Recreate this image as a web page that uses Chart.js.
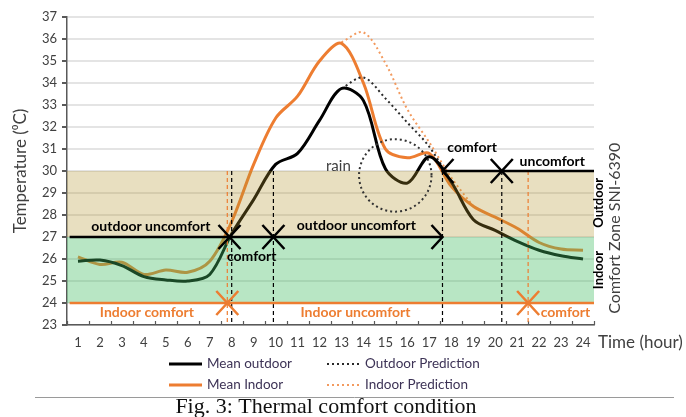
<!DOCTYPE html>
<html>
<head>
<meta charset="utf-8">
<script src="https://cdn.jsdelivr.net/npm/chart.js@4.4.1/dist/chart.umd.min.js"></script>
<style>
html, body { margin: 0; padding: 0; background: #fff; }
#wrap { width: 686px; height: 417px; }
</style>
</head>
<body>
<div id="wrap"><canvas id="Thermal" width="686" height="417"></canvas></div>
<script>
// hours of the day (x axis)
const hours = [1, 2, 3, 4, 5, 6, 7, 8, 9, 10, 11, 12, 13, 14, 15, 16, 17, 18, 19, 20, 21, 22, 23, 24];
const meanOutdoor = [25.9, 25.95, 25.7, 25.2, 25.05, 25.0, 25.3, 27.15, 28.7, 30.3, 30.8, 32.3, 33.75, 33.2, 30.1, 29.45, 30.65, 29.5, 27.8, 27.3, 26.8, 26.4, 26.15, 26.0];
const meanIndoor = [26.1, 25.75, 25.85, 25.3, 25.5, 25.4, 25.9, 27.7, 30.3, 32.4, 33.4, 35.0, 35.8, 34.0, 31.0, 30.6, 30.8, 29.3, 28.4, 27.9, 27.4, 26.75, 26.45, 26.4];
const outdoorPredHours = [13, 14, 15, 16, 17, 18];
const outdoorPred = [33.75, 34.25, 33.3, 32.2, 31.1, 29.5];
const indoorPredHours = [13, 14, 15, 16, 17, 18, 19];
const indoorPred = [35.85, 36.3, 34.9, 32.8, 31.3, 29.7, 28.4];

// comfort zones SNI-6390
const indoorZone = [24, 27];
const outdoorZone = [27, 30];

// annotation marks (hour / degC)
const crossHours = { outA: 7.9, outB: 9.9, outC: 17.6, outD: 20.3, inA: 7.8, inB: 21.5 };

const toPts = (xs, ys) => xs.map((x, i) => ({ x: x, y: ys[i] }));

const ORANGE = '#ed7d31';
const GREY = '#404040';

const ctx = document.getElementById('Thermal').getContext('2d');
Chart.defaults.font.family = 'Lato';
Chart.defaults.color = GREY;

function head(c, tx, ty, dir) {
    c.beginPath();
    c.moveTo(tx - dir * 11, ty - 12);
    c.lineTo(tx, ty);
    c.lineTo(tx - dir * 11, ty + 12);
    c.stroke();
}

function arrowLine(c, x, y, seg, color) {
    const px1 = x.getPixelForValue(seg[0]), px2 = x.getPixelForValue(seg[1]);
    const py = y.getPixelForValue(seg[2]);
    c.strokeStyle = color;
    c.lineWidth = 2.5;
    c.beginPath();
    c.moveTo(px1, py);
    c.lineTo(px2, py);
    c.stroke();
    if (seg[3]) head(c, px1, py, -1);
    if (seg[4]) head(c, px2, py, 1);
}

const comfortPlugin = {
    id: 'comfort',
    afterDatasetsDraw(chart) {
        const { ctx: c, chartArea: a, scales: { y } } = chart;
        c.save();
        c.fillStyle = 'rgba(68, 189, 100, 0.38)';
        c.fillRect(a.left, y.getPixelForValue(indoorZone[1]), a.right - a.left,
            y.getPixelForValue(indoorZone[0]) - y.getPixelForValue(indoorZone[1]));
        c.fillStyle = 'rgba(178, 148, 45, 0.3)';
        c.fillRect(a.left, y.getPixelForValue(outdoorZone[1]), a.right - a.left,
            y.getPixelForValue(outdoorZone[0]) - y.getPixelForValue(outdoorZone[1]));
        c.restore();
    },
    afterDraw(chart) {
        const { ctx: c, chartArea: a, scales: { x, y } } = chart;
        c.save();

        // small tick marks between hours
        c.strokeStyle = '#595959';
        c.lineWidth = 1.2;
        for (let h = 0.5; h <= 24.5; h++) {
            const px = Math.round(x.getPixelForValue(h)) + 0.5;
            c.beginPath();
            c.moveTo(px, a.bottom - 4);
            c.lineTo(px, a.bottom);
            c.stroke();
        }

        // vertical dashed lines
        c.lineWidth = 1.2;
        c.setLineDash([4, 3]);
        [[crossHours.inA, ORANGE], [8.0, '#000'], [crossHours.outB, '#000'], [crossHours.outC, '#000'],
         [crossHours.outD, '#000'], [crossHours.inB, ORANGE]].forEach(v => {
            const px = x.getPixelForValue(v[0]);
            c.strokeStyle = v[1];
            c.beginPath();
            c.moveTo(px, y.getPixelForValue(outdoorZone[1]));
            c.lineTo(px, a.bottom);
            c.stroke();
        });
        c.setLineDash([]);

        // outdoor arrows
        arrowLine(c, x, y, [0.62, crossHours.outA, 27, false, true], '#000');
        arrowLine(c, x, y, [crossHours.outA, crossHours.outB, 27, true, true], '#000');
        arrowLine(c, x, y, [crossHours.outB, crossHours.outC, 27, true, true], '#000');
        arrowLine(c, x, y, [crossHours.outC, crossHours.outD, 30, true, true], '#000');
        arrowLine(c, x, y, [crossHours.outD, 24.5, 30, true, false], '#000');
        // indoor arrows
        arrowLine(c, x, y, [0.62, crossHours.inA, 24, false, true], ORANGE);
        arrowLine(c, x, y, [crossHours.inA, crossHours.inB, 24, true, true], ORANGE);
        arrowLine(c, x, y, [crossHours.inB, 24.5, 24, true, false], ORANGE);

        // rain circle
        c.strokeStyle = '#333';
        c.lineWidth = 2;
        c.setLineDash([2, 3]);
        c.beginPath();
        c.arc(x.getPixelForValue(15.45), y.getPixelForValue(29.8),
            x.getPixelForValue(15.45 + 1.65) - x.getPixelForValue(15.45), 0, Math.PI * 2);
        c.stroke();
        c.setLineDash([]);

        // labels
        c.textAlign = 'center';
        c.textBaseline = 'middle';
        const txt = (s, hx, ty, font, color) => {
            c.font = font;
            c.fillStyle = color;
            c.fillText(s, x.getPixelForValue(hx), y.getPixelForValue(ty));
        };
        const B = 'bold 14px Lato';
        txt('outdoor uncomfort', 4.32, 27.5, B, '#000');
        txt('comfort', 8.91, 26.1, B, '#000');
        txt('outdoor uncomfort', 13.68, 27.53, B, '#000');
        txt('comfort', 18.95, 31.05, B, '#000');
        txt('uncomfort', 22.6, 30.45, B, '#000');
        txt('Indoor comfort', 4.14, 23.55, B, ORANGE);
        txt('Indoor uncomfort', 13.64, 23.55, B, ORANGE);
        txt('comfort', 23.2, 23.55, B, ORANGE);
        txt('rain', 12.86, 30.23, '15px Lato', GREY);

        // zone names on the right
        const vtxt = (s, px, py, font, color) => {
            c.save();
            c.translate(px, py);
            c.rotate(-Math.PI / 2);
            c.font = font;
            c.fillStyle = color;
            c.fillText(s, 0, 0);
            c.restore();
        };
        vtxt('Outdoor', a.right + 5, y.getPixelForValue(28.55), 'bold 13px Lato', '#000');
        vtxt('Indoor', a.right + 5, y.getPixelForValue(25.5), 'bold 13px Lato', '#000');
        vtxt('Comfort Zone SNI-6390', a.right + 21, y.getPixelForValue(27.4), '16px Lato', GREY);

        // x axis title
        c.textAlign = 'left';
        c.font = '17px Lato';
        c.fillStyle = GREY;
        c.fillText('Time (hour)', a.right + 4, a.bottom + 18);

        // legend, two rows of two
        const ds = chart.data.datasets;
        c.font = '13.5px Lato';
        ds.forEach((d, i) => {
            const lx = i % 2 === 0 ? 169 : 327;
            const ly = i < 2 ? 364 : 385;
            c.strokeStyle = d.borderColor;
            c.lineWidth = d.borderDash ? 2 : 3;
            c.setLineDash(d.borderDash || []);
            c.beginPath();
            c.moveTo(lx, ly);
            c.lineTo(lx + 33, ly);
            c.stroke();
            c.setLineDash([]);
            c.fillStyle = '#3d3356';
            c.fillText(d.label, lx + 38, ly);
        });

        // caption
        c.strokeStyle = '#9a9a9a';
        c.lineWidth = 1;
        c.beginPath();
        c.moveTo(35, 397.5);
        c.lineTo(674, 397.5);
        c.stroke();
        c.textAlign = 'center';
        c.font = '22px "Liberation Serif"';
        c.fillStyle = '#111';
        c.fillText('Fig. 3: Thermal comfort condition', 326, 407);
        c.restore();
    }
};

var myChart = new Chart(ctx, {
    type: 'line',
    data: {
        datasets: [{
            label: 'Mean outdoor',
            data: toPts(hours, meanOutdoor),
            borderColor: '#000000',
            borderWidth: 3,
            pointRadius: 0,
            tension: 0.33
        }, {
            label: 'Outdoor Prediction',
            data: toPts(outdoorPredHours, outdoorPred),
            borderColor: '#2a2a2a',
            borderWidth: 2,
            borderDash: [2, 3],
            pointRadius: 0,
            tension: 0.33
        }, {
            label: 'Mean Indoor',
            data: toPts(hours, meanIndoor),
            borderColor: ORANGE,
            borderWidth: 3,
            pointRadius: 0,
            tension: 0.33
        }, {
            label: 'Indoor Prediction',
            data: toPts(indoorPredHours, indoorPred),
            borderColor: '#f39a5e',
            borderWidth: 2,
            borderDash: [2, 3],
            pointRadius: 0,
            tension: 0.33
        }]
    },
    options: {
        responsive: false,
        animation: false,
        layout: { padding: { left: 0, top: 17, right: 92, bottom: 62 } },
        plugins: { legend: { display: false }, tooltip: { enabled: false } },
        scales: {
            x: {
                type: 'linear',
                min: 0.5,
                max: 24.5,
                afterBuildTicks: s => { s.ticks = hours.map(h => ({ value: h })); },
                afterFit: s => { s.height = 30; },
                grid: { display: true, drawOnChartArea: false, drawTicks: false },
                border: { color: '#595959', width: 1.5 },
                ticks: { font: { size: 13 }, color: GREY, padding: 10, maxRotation: 0, autoSkip: false }
            },
            y: {
                min: 23,
                max: 37,
                afterFit: s => { s.width = 67; },
                ticks: { stepSize: 1, font: { size: 13 }, color: GREY, padding: 5 },
                grid: { color: '#e4e4e4', lineWidth: 2, tickColor: '#595959', tickLength: 5 },
                border: { color: '#595959', width: 1.5 },
                title: { display: true, text: 'Temperature (⁰C)', font: { size: 17 }, color: GREY, padding: { top: 10, bottom: 0 } }
            }
        }
    },
    plugins: [comfortPlugin]
});
</script>
</body>
</html>
